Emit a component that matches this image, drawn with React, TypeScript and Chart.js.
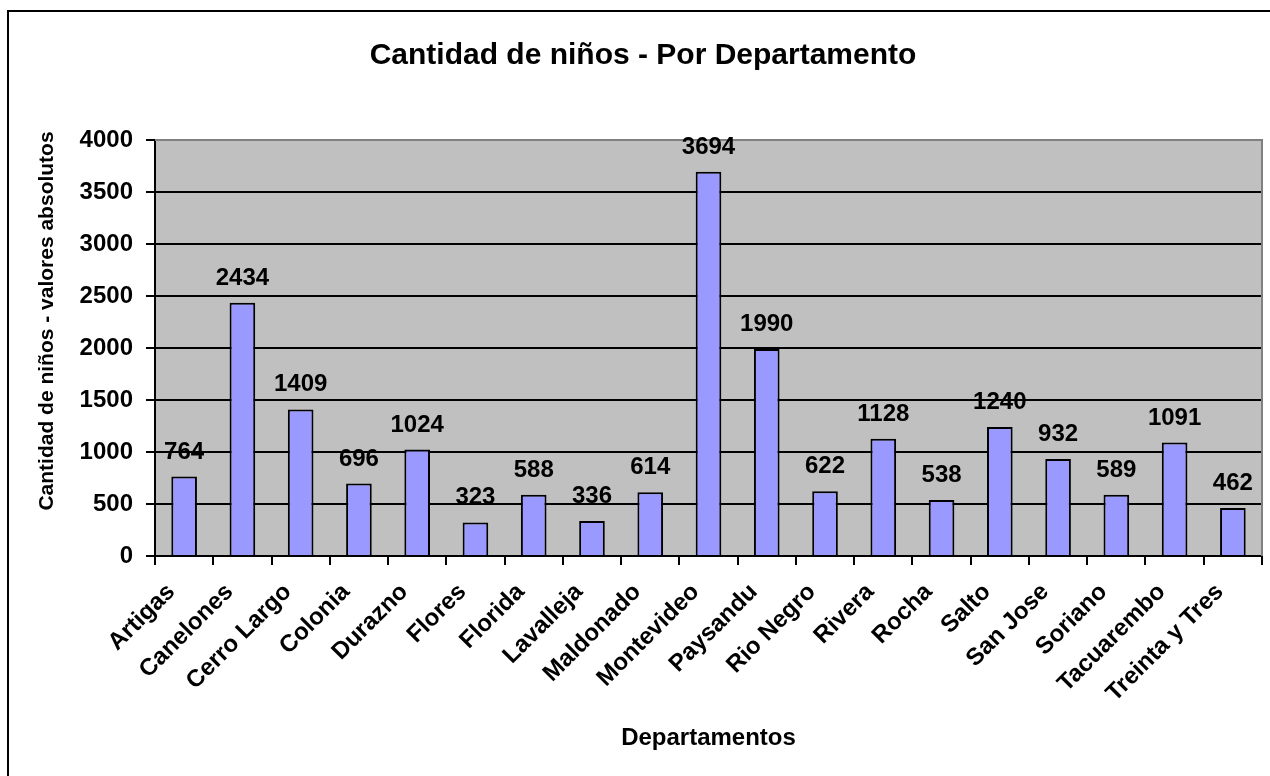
import React, { useEffect, useRef } from "react";
import { Chart, registerables } from "chart.js";

Chart.register(...registerables);

const categories = [
  "Artigas", "Canelones", "Cerro Largo", "Colonia", "Durazno", "Flores", "Florida",
  "Lavalleja", "Maldonado", "Montevideo", "Paysandu", "Rio Negro", "Rivera", "Rocha",
  "Salto", "San Jose", "Soriano", "Tacuarembo", "Treinta y Tres",
];
const values = [764, 2434, 1409, 696, 1024, 323, 588, 336, 614, 3694, 1990, 622, 1128, 538, 1240, 932, 589, 1091, 462];
const chartTitle = "Cantidad de niños - Por Departamento";
const xTitle = "Departamentos";
const yTitle = "Cantidad de niños - valores absolutos";
const yMin = 0;
const yMax = 4000;
const yStep = 500;

const FONT = "'Liberation Sans', Arial, sans-serif";

const decorPlugin = {
  id: "decor",
  beforeDraw(chart: any) {
    const { ctx, chartArea } = chart;
    ctx.save();
    ctx.fillStyle = "#ffffff";
    ctx.fillRect(0, 0, chart.width, chart.height);
    ctx.fillStyle = "#000000";
    ctx.fillRect(7, 10, 2, 2000);
    ctx.fillRect(7, 10, 3000, 2);
    ctx.fillStyle = "#C0C0C0";
    ctx.fillRect(chartArea.left, chartArea.top, chartArea.right - chartArea.left, chartArea.bottom - chartArea.top);
    ctx.restore();
  },
  afterDraw(chart: any) {
    const { ctx, chartArea } = chart;
    ctx.save();
    ctx.fillStyle = "#000";
    ctx.font = `bold 30px ${FONT}`;
    ctx.textAlign = "center";
    ctx.textBaseline = "alphabetic";
    ctx.fillText(chartTitle, 643, 64);
    ctx.font = `bold 24px ${FONT}`;
    ctx.fillText(xTitle, (chartArea.left + chartArea.right) / 2, 745);
    ctx.font = `bold 21px ${FONT}`;
    ctx.translate(53, 321);
    ctx.rotate(-Math.PI / 2);
    ctx.fillText(yTitle, 0, 0);
    ctx.restore();
  },
};

const borderPlugin = {
  id: "plotBorder",
  beforeDatasetsDraw(chart: any) {
    const { ctx, chartArea } = chart;
    ctx.save();
    ctx.strokeStyle = "#808080";
    ctx.lineWidth = 2;
    ctx.beginPath();
    ctx.moveTo(chartArea.left, chartArea.top);
    ctx.lineTo(chartArea.right, chartArea.top);
    ctx.lineTo(chartArea.right, chartArea.bottom);
    ctx.stroke();
    ctx.restore();
  },
};

const labelPlugin = {
  id: "barLabels",
  afterDatasetsDraw(chart: any) {
    const { ctx } = chart;
    const meta = chart.getDatasetMeta(0);
    ctx.save();
    ctx.fillStyle = "#000";
    ctx.font = `bold 24px ${FONT}`;
    ctx.textAlign = "center";
    ctx.textBaseline = "alphabetic";
    meta.data.forEach((el: any, i: number) => {
      ctx.fillText(String(values[i]), el.x, el.y - 18);
    });
    ctx.restore();
  },
};

export default function App() {
  const ref = useRef<HTMLCanvasElement | null>(null);
  useEffect(() => {
    if (!ref.current) return;
    const chart = new Chart(ref.current, {
      type: "bar",
      data: {
        labels: categories,
        datasets: [
          {
            data: values,
            backgroundColor: "#9999FF",
            borderColor: "#000000",
            borderWidth: 2,
            barPercentage: 0.44,
            categoryPercentage: 1,
          },
        ],
      },
      options: {
        responsive: false,
        animation: false,
        devicePixelRatio: 1,
        layout: { padding: { left: 0, right: 8, top: 140, bottom: 0 } },
        plugins: { legend: { display: false }, tooltip: { enabled: false }, title: { display: false } },
        scales: {
          x: {
            offset: true,
            grid: {
              offset: true,
              drawOnChartArea: false,
              drawTicks: true,
              tickLength: 9,
              color: "#000",
              lineWidth: 2,
            },
            border: { color: "#000", width: 2 },
            ticks: {
              minRotation: 45,
              maxRotation: 45,
              autoSkip: false,
              color: "#000",
              padding: 13,
              labelOffset: -13,
              font: { family: FONT, size: 24, weight: "bold" },
            },
            afterFit: (s: any) => {
              s.height = 220;
            },
          },
          y: {
            min: yMin,
            max: yMax,
            ticks: {
              stepSize: yStep,
              color: "#000",
              padding: 13,
              font: { family: FONT, size: 24, weight: "bold" },
              callback: (v: any) => String(v),
            },
            grid: {
              color: (c: any) => (c.tick && c.tick.value === yMax ? "#808080" : "#000"),
              tickColor: "#000",
              lineWidth: 2,
              tickLength: 9,
            },
            border: { color: "#000", width: 2 },
            afterFit: (s: any) => {
              s.width = 155;
            },
          },
        },
      },
      plugins: [decorPlugin, borderPlugin, labelPlugin],
    });
    return () => chart.destroy();
  }, []);
  return (
    <div style={{ position: "fixed", left: 0, top: 0, width: 1270, height: 776, overflow: "hidden", background: "#fff" }}>
      <canvas ref={ref} width={1270} height={776} style={{ display: "block" }} />
    </div>
  );
}
